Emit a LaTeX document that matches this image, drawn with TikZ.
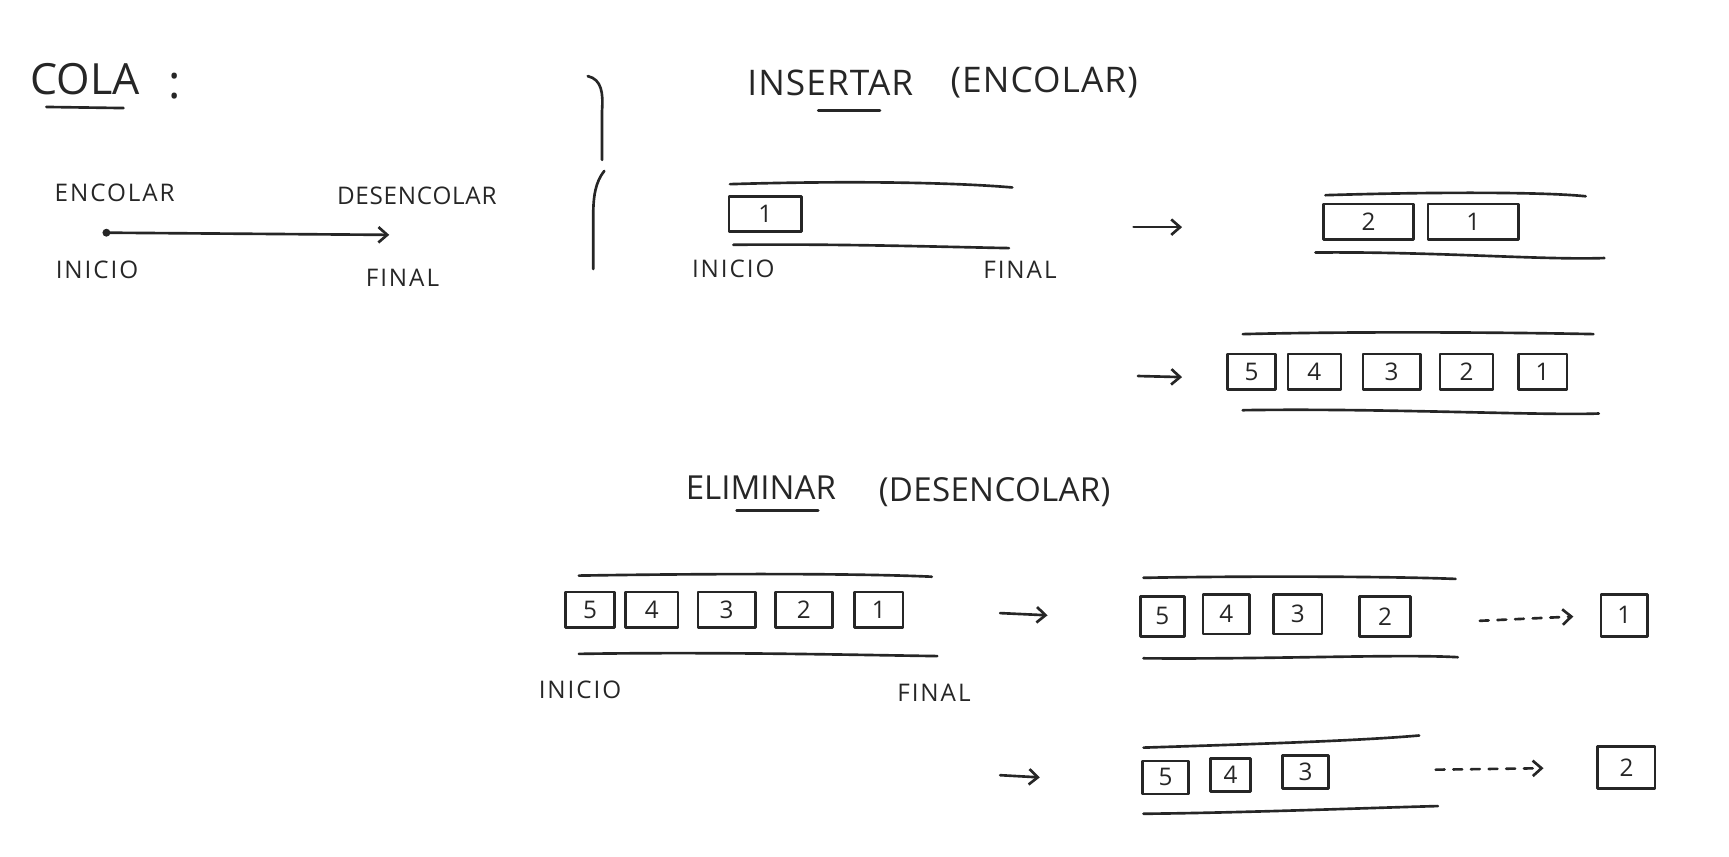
\documentclass[tikz,border=0pt]{standalone}
\usepackage{fontspec}
\setmainfont{Open Sans}
\usetikzlibrary{arrows.meta}
\begin{document}
\begin{tikzpicture}[x=0.5pt,y=-0.5pt,
  ink/.style={line width=1.2pt, line cap=round, line join=round, draw=black!85},
  lbl/.style={font=\fontsize{11}{11}\selectfont\addfontfeatures{LetterSpace=8}, inner sep=0, text=black!85},
  ttl/.style={font=\fontsize{16}{16}\selectfont\addfontfeatures{LetterSpace=3}, inner sep=0, text=black!85},
  cell/.style={ink, draw, rectangle, minimum width=#1, minimum height=16pt, inner sep=0, text=black!85, font=\fontsize{11}{11}\selectfont},
  arr/.style={ink, -{Straight Barb[length=4pt,width=7pt]}},
  darr/.style={ink, dash pattern=on 4pt off 4pt, -{Straight Barb[length=4pt,width=7pt]}}
]
\useasboundingbox (0,0) rectangle (1568,777);

% ---------- COLA ----------
\node[font=\fontsize{19.5}{19.5}\selectfont, inner sep=0, text=black!85] (cola) at (77,72) {COLA};
\node[font=\fontsize{21}{21}\selectfont, inner sep=0, text=black!85] (colon) at (158,78) {:};
\draw[ink] (42,97) -- (112,98);

\node[lbl] (encolar) at (104,175) {ENCOLAR};
\node[lbl, font=\fontsize{11}{11}\selectfont\addfontfeatures{LetterSpace=3}] (desencolar) at (378,178) {DESENCOLAR};
\node[lbl] (inicio0) at (88,245) {INICIO};
\node[lbl] (final0) at (365,252) {FINAL};
\coordinate (s0) at (93,211);
\coordinate (e0) at (353,213);
\draw[ink, {Circle[length=3.5pt]}-{Straight Barb[length=4pt,width=7pt]}] (s0) -- (e0);

% ---------- brace ----------
\draw[ink] (533,69) .. controls (546,72) and (547,85) .. (546,100) -- (546,145);
\draw[ink] (548,155) .. controls (540,165) and (538,178) .. (538,195) -- (538,244);

% ---------- INSERTAR ----------
\node[ttl] (insertar) at (753,75) {INSERTAR};
\node[ttl] (encolarT) at (947,75) {(ENCOLAR)};
\draw[ink] (742,100) -- (798,100);

% queue 1
\draw[ink] (662,167) .. controls (760,164) and (860,165) .. (918,170);
\draw[ink] (665,222) .. controls (760,221) and (860,224) .. (915,225);
\node[cell=33pt] (q1a) at (694,194) {1};
\node[lbl] (inicio1) at (665,244) {INICIO};
\node[lbl] (final1) at (925,245) {FINAL};

\coordinate (a1s) at (1028,206);
\coordinate (a1e) at (1072,206);
\draw[arr] (a1s) -- (a1e);

% queue 2
\draw[ink] (1202,177) .. controls (1300,174) and (1400,174) .. (1438,178);
\draw[ink] (1193,229) .. controls (1300,228) and (1400,236) .. (1455,234);
\node[cell=41pt] (q2a) at (1241,201) {2};
\node[cell=41pt] (q2b) at (1336,201) {1};

% queue 3
\coordinate (a2s) at (1032,341);
\coordinate (a2e) at (1072,342);
\draw[arr] (a2s) -- (a2e);
\draw[ink] (1127,303) .. controls (1250,300) and (1400,302) .. (1445,303);
\draw[ink] (1127,372) .. controls (1250,370) and (1400,377) .. (1450,375);
\node[cell=22pt] (q3a) at (1135,337) {5};
\node[cell=24pt] (q3b) at (1192,337) {4};
\node[cell=26pt] (q3c) at (1262,337) {3};
\node[cell=24pt] (q3d) at (1330,337) {2};
\node[cell=22pt] (q3e) at (1399,337) {1};

% ---------- ELIMINAR ----------
\node[ttl, font=\fontsize{15}{15}\selectfont] (eliminar) at (690,442) {ELIMINAR};
\node[ttl, font=\fontsize{15}{15}\selectfont\addfontfeatures{LetterSpace=1}] (desencolarT) at (902,446) {(DESENCOLAR)};
\draw[ink] (668,463) -- (742,463);

% queue 4
\draw[ink] (525,522) .. controls (650,520) and (780,520) .. (845,523);
\draw[ink] (525,593) .. controls (650,591) and (780,594) .. (850,595);
\node[cell=22pt] (q4a) at (535,553) {5};
\node[cell=24pt] (q4b) at (591,553) {4};
\node[cell=26pt] (q4c) at (659,553) {3};
\node[cell=26pt] (q4d) at (729,553) {2};
\node[cell=22pt] (q4e) at (797,553) {1};
\node[lbl] (inicio2) at (526,626) {INICIO};
\node[lbl] (final2) at (847,628) {FINAL};

\coordinate (a3s) at (907,556);
\coordinate (a3e) at (950,558);
\draw[arr] (a3s) -- (a3e);

% queue 5
\draw[ink] (1037,524) .. controls (1150,522) and (1270,523) .. (1320,525);
\draw[ink] (1037,597) .. controls (1150,598) and (1270,593) .. (1322,596);
\node[cell=20pt, minimum height=18pt] (q5a) at (1054,559) {5};
\node[cell=21pt, minimum height=18pt] (q5b) at (1112,557) {4};
\node[cell=22pt, minimum height=18pt] (q5c) at (1177,557) {3};
\node[cell=23pt, minimum height=18pt] (q5d) at (1256,559) {2};
\node[cell=21pt, minimum height=19pt] (r1) at (1473,558) {1};
\coordinate (d1s) at (1342,563);
\draw[darr, shorten >=12pt] (d1s) -- (r1.west);

% queue 6
\coordinate (a4s) at (907,703);
\coordinate (a4e) at (943,705);
\draw[arr] (a4s) -- (a4e);
\draw[ink] (1037,678) .. controls (1130,675) and (1230,672) .. (1287,667);
\draw[ink] (1037,738) .. controls (1130,737) and (1230,733) .. (1304,731);
\node[cell=21pt, minimum height=15pt] (q6a) at (1057,705) {5};
\node[cell=18pt, minimum height=15pt] (q6b) at (1116,703) {4};
\node[cell=21pt, minimum height=15pt] (q6c) at (1184,700) {3};
\node[cell=26pt, minimum height=19pt] (r2) at (1475,696) {2};
\coordinate (d2s) at (1302,698);
\draw[darr, shorten >=24pt] (d2s) -- (r2.west);
\end{tikzpicture}
\end{document}
